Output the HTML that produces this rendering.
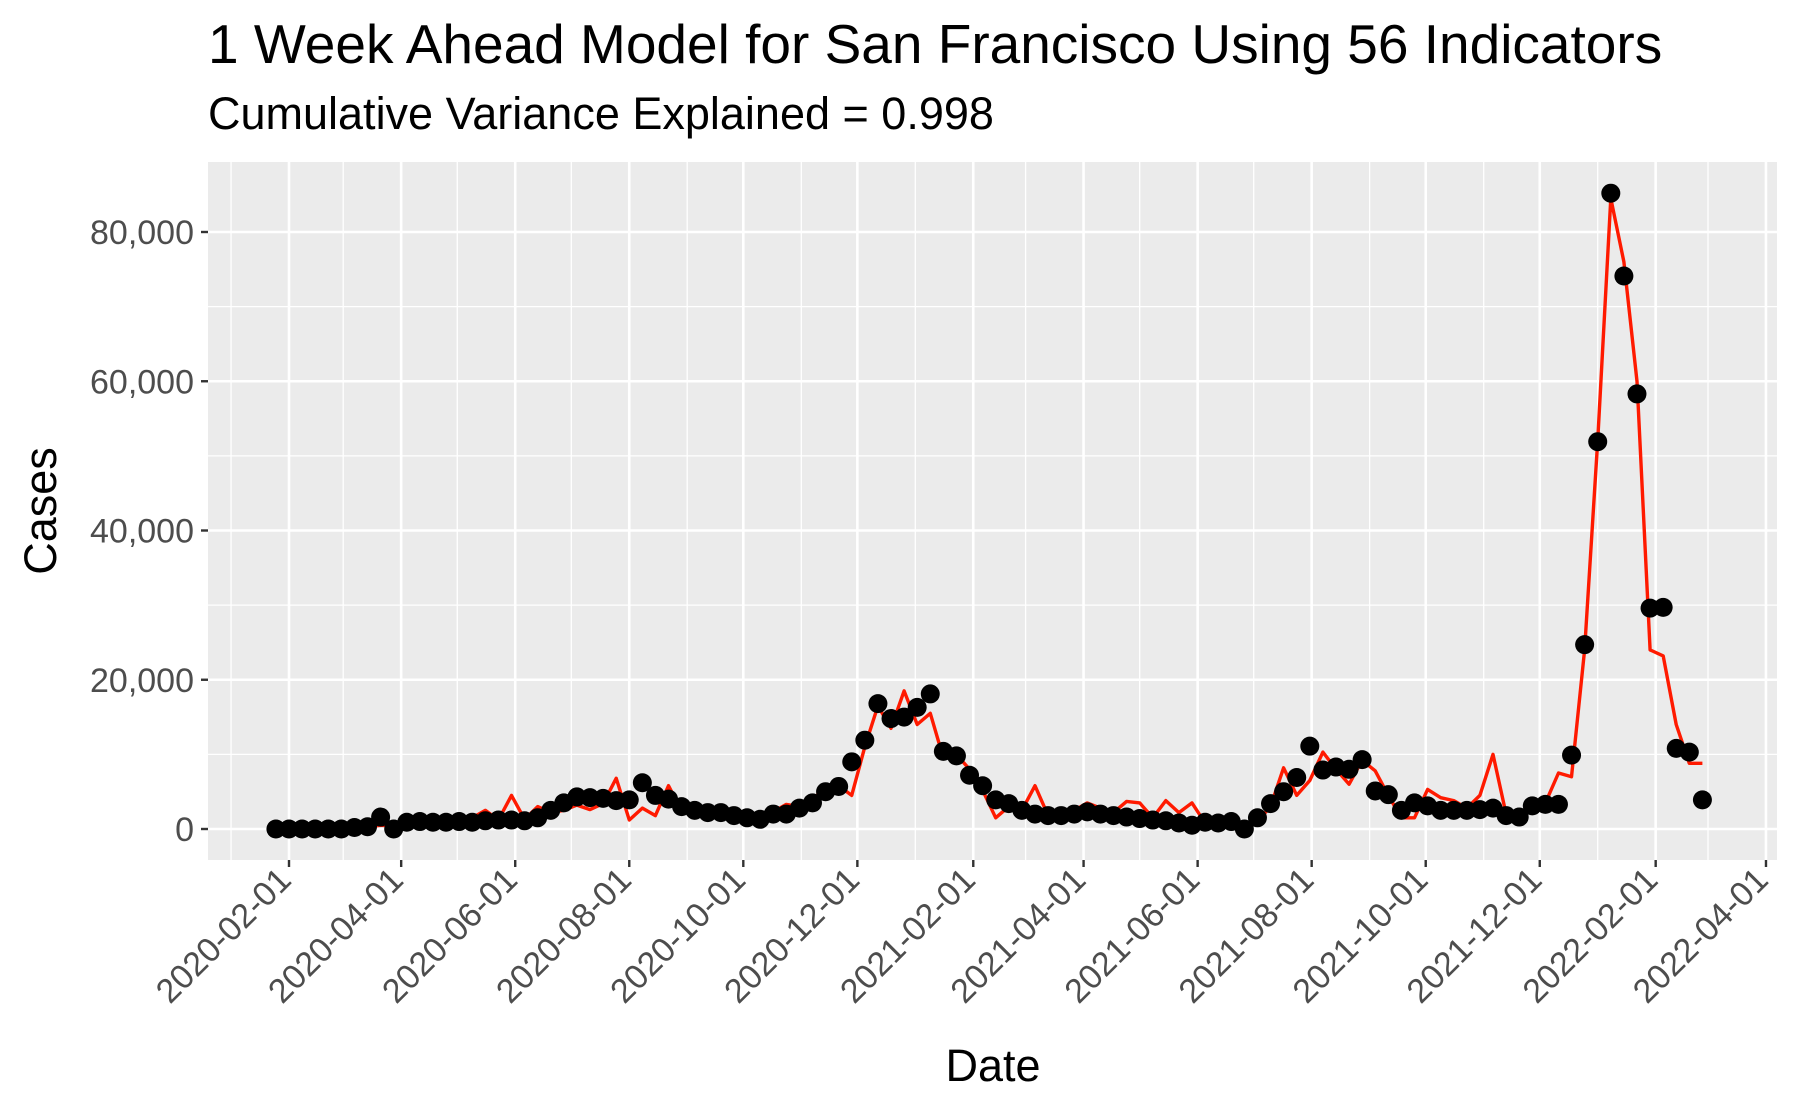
<!DOCTYPE html>
<html><head><meta charset="utf-8"><style>
body{margin:0;background:#fff;}
svg{display:block;font-family:"Liberation Sans",Arial,sans-serif;}
</style></head><body>
<svg id="chart" width="1800" height="1113" viewBox="0 0 1800 1113">
<text x="208" y="63" font-size="55" fill="#000">1 Week Ahead Model for San Francisco Using 56 Indicators</text>
<text x="208" y="129" font-size="45" fill="#000">Cumulative Variance Explained = 0.998</text>
<rect x="208" y="162" width="1569" height="698" fill="#ebebeb"/>
<g id="grid"></g>
<g id="axes"></g>
<g id="marks"></g>
<text x="993" y="1081" font-size="45" text-anchor="middle" fill="#000">Date</text>
<text transform="translate(56,511) rotate(-90)" font-size="45" text-anchor="middle" fill="#000">Cases</text>
</svg>
<script>
const startDate = "2020-01-25";
const actual = [0,0,0,0,0,0,0.2,0.3,1.6,0,0.9,1.0,0.9,0.9,1.0,0.9,1.1,1.2,1.2,1.1,1.5,2.5,3.5,4.3,4.2,4.1,3.8,3.9,6.2,4.5,4.0,3.0,2.5,2.2,2.2,1.8,1.5,1.3,2.0,2.0,2.8,3.5,5.0,5.7,9.0,11.9,16.8,14.8,15.0,16.3,18.1,10.4,9.8,7.2,5.8,3.9,3.4,2.5,2.0,1.8,1.8,2.0,2.3,2.0,1.8,1.6,1.4,1.2,1.1,0.8,0.5,0.9,0.8,1.0,0,1.5,3.4,5.0,6.9,11.1,7.9,8.3,8.0,9.3,5.1,4.6,2.5,3.5,3.1,2.5,2.5,2.5,2.6,2.8,1.8,1.6,3.1,3.3,3.3,9.9,24.7,51.9,85.2,74.1,58.3,29.6,29.7,10.8,10.3,3.9];
const predicted = [0,0.3,0,0,0,0,0.2,0.3,0.5,0.4,0.9,1.0,0.9,1.0,1.2,1.5,2.5,1.2,4.5,1.3,3.0,2.2,2.5,3.2,2.6,3.4,6.8,1.2,2.8,1.8,5.8,2.4,2.2,2.0,2.0,1.6,1.5,1.4,2.3,3.3,3.0,4.0,5.5,5.8,4.5,11.0,16.5,13.5,18.5,14.0,15.5,9.5,10.0,8.0,5.2,1.5,3.0,2.5,5.8,1.8,2.0,2.5,3.5,2.8,2.2,3.7,3.5,1.5,3.8,2.2,3.5,0.8,1.0,1.3,0.6,1.0,3.0,8.2,4.5,6.5,10.3,8.0,6.0,9.2,7.8,4.5,1.5,1.5,5.3,4.2,3.8,2.8,4.5,10.0,2.0,2.0,2.5,3.5,7.5,7.0,24.0,52.0,84.5,76.0,60.0,24.0,23.2,14.0,8.8,8.8];
const yTicks = [0,20000,40000,60000,80000];
const yTickLabels = ["0","20,000","40,000","60,000","80,000"];
const xTicks = ["2020-02-01","2020-04-01","2020-06-01","2020-08-01","2020-10-01","2020-12-01","2021-02-01","2021-04-01","2021-06-01","2021-08-01","2021-10-01","2021-12-01","2022-02-01","2022-04-01"];
const xMinor = ["2020-01-01","2020-03-01","2020-05-01","2020-07-01","2020-09-01","2020-11-01","2021-01-01","2021-03-01","2021-05-01","2021-07-01","2021-09-01","2021-11-01","2022-01-01","2022-03-01"];

const NS="http://www.w3.org/2000/svg";
const DAY=86400000, base=Date.UTC(2020,1,1);
function dnum(s){const p=s.split('-');return (Date.UTC(+p[0],+p[1]-1,+p[2])-base)/DAY;}
function xs(days){return 289+days*1.8696;}
function ys(v){return 829-v*0.0074625;}
function mk(tag,attrs,parent){const e=document.createElementNS(NS,tag);for(const k in attrs)e.setAttribute(k,attrs[k]);parent.appendChild(e);return e;}
const grid=document.getElementById('grid'),axes=document.getElementById('axes'),marks=document.getElementById('marks');
const L=208,R=1777,T=162,B=860;
[10000,30000,50000,70000].forEach(v=>{
  const l=mk('line',{x1:L,x2:R,y1:ys(v),y2:ys(v),stroke:'#fff','stroke-width':1.3},grid);
  
  
});
xMinor.forEach(d=>{
  const x=xs(dnum(d)); if(x<L||x>R)return;
  const l=mk('line',{x1:x,x2:x,y1:T,y2:B,stroke:'#fff','stroke-width':1.3},grid);
  
  
});
yTicks.forEach((v,i)=>{
  const y=ys(v);
  const l=mk('line',{x1:L,x2:R,y1:y,y2:y,stroke:'#fff','stroke-width':2.6},grid);
  
  
  const t=mk('line',{x1:L-7,x2:L,y1:y,y2:y,stroke:'#333','stroke-width':2.4},axes);
  
  
  const tx=mk('text',{x:L-14,y:y+12,'font-size':34,'text-anchor':'end',fill:'#4d4d4d'},axes);
  tx.textContent=yTickLabels[i];
  
  
});
xTicks.forEach(d=>{
  const x=xs(dnum(d));
  const l=mk('line',{x1:x,x2:x,y1:T,y2:B,stroke:'#fff','stroke-width':2.6},grid);
  
  
  const t=mk('line',{x1:x,x2:x,y1:B,y2:B+7,stroke:'#333','stroke-width':2.4},axes);
  
  
  const tx=mk('text',{transform:`translate(${x+4},${B+22}) rotate(-45)`,'font-size':34,'text-anchor':'end',fill:'#4d4d4d'},axes);
  tx.textContent=d;
  
  
});
const s0=dnum(startDate);
const pts=predicted.map((v,i)=>xs(s0+7*i).toFixed(1)+','+ys(v*1000).toFixed(1)).join(' ');
const pl=mk('polyline',{points:pts,fill:'none',stroke:'#ff1a00','stroke-width':3.4,'stroke-linejoin':'round'},marks);


actual.forEach((v,i)=>{
  const c=mk('circle',{cx:xs(s0+7*i),cy:ys(v*1000),r:9.5,fill:'#000'},marks);
  
  
});
</script>
</body></html>
